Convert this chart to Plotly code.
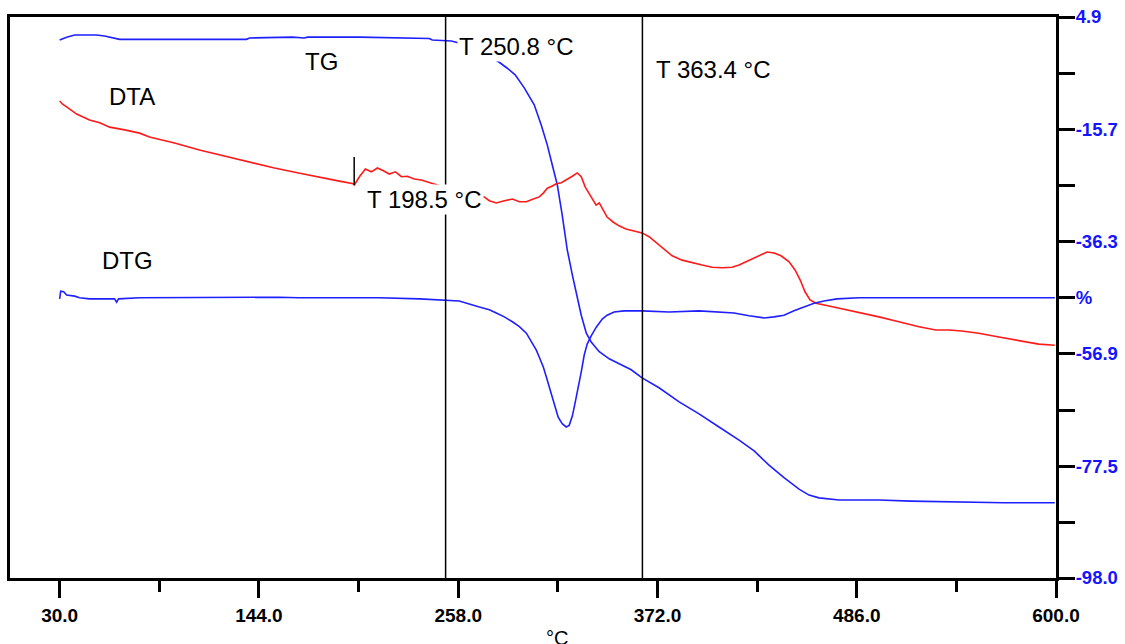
import plotly.graph_objects as go

# ---- data (temperature °C, value on the % scale) ----
tg_t = [30.0, 34.0, 38.6, 51.1, 55.7, 64.3, 98.6, 136.9, 138.6, 163.2, 170.0, 171.8, 201.5, 224.3,
        241.5, 243.2, 250.6, 254.1, 267.2, 281.5, 286.1, 290.6, 295.8, 301.5, 305.5, 309.0, 311.8,
        314.7, 317.5, 320.4, 323.3, 325.5, 328.4, 331.3, 334.1, 338.7, 344.4, 350.1, 357.0, 363.2,
        372.9, 384.4, 395.8, 407.2, 418.7, 427.3, 435.8, 444.4, 453.0, 458.7, 464.4, 475.9, 498.7,
        517.0, 570.1, 599.3]
tg_v = [0.7, 1.2, 1.6, 1.6, 1.4, 0.8, 0.8, 0.8, 1.05, 1.2, 1.05, 1.2, 1.2, 1.05,
        0.96, 0.68, 0.5, 0.5, -0.6, -3.4, -4.5, -5.7, -8.1, -11.2, -14.9, -18.6, -22.2,
        -25.9, -31.4, -37.8, -42.4, -45.5, -49.8, -53.1, -54.7, -56.5, -57.8, -58.7, -59.8, -61.3,
        -63.1, -65.7, -67.9, -70.3, -72.7, -74.7, -77.3, -79.6, -81.7, -82.8, -83.3, -83.7, -83.7,
        -83.9, -84.2, -84.2]

dta_t = [30.0, 31.7, 34.0, 36.9, 39.7, 43.1, 47.1, 52.9, 58.6, 67.2, 75.7, 81.4, 95.7, 110.0, 124.3,
         138.6, 152.9, 166.7, 178.6, 190.0, 198.0, 198.6, 201.5, 204.9, 208.3, 211.8, 215.2, 218.6,
         222.1, 225.5, 228.9, 232.9, 236.9, 241.5, 252.9, 264.3, 272.9, 275.8, 279.8, 284.4, 289.0,
         293.0, 297.0, 301.0, 304.4, 306.7, 309.0, 311.8, 314.1, 317.0, 319.8, 323.3, 326.1, 328.4,
         330.7, 333.0, 335.2, 336.9, 338.7, 340.9, 343.2, 346.6, 350.0, 354.0, 358.6, 363.2, 367.2,
         372.9, 376.9, 380.4, 386.1, 391.8, 397.5, 403.3, 409.0, 414.7, 418.7, 422.7, 427.3, 431.3,
         434.7, 438.7, 442.7, 447.3, 450.7, 453.6, 456.4, 459.3, 462.7, 470.1, 478.7, 487.3, 498.7,
         510.1, 521.6, 531.3, 538.7, 546.1, 555.8, 567.3, 578.7, 590.1, 599.3]
dta_v = [-10.5, -11.1, -11.6, -12.3, -12.9, -13.4, -14.0, -14.5, -15.3, -15.8, -16.4, -17.1, -18.2,
         -19.5, -20.6, -21.7, -22.8, -23.7, -24.4, -25.2, -25.7, -25.9, -24.4, -23.0, -23.5, -22.8,
         -23.3, -23.9, -23.5, -24.4, -24.3, -24.8, -25.0, -25.5, -26.6, -27.6, -28.1, -28.8, -29.2,
         -28.8, -28.5, -29.0, -29.0, -28.5, -28.1, -27.4, -26.5, -26.1, -25.7, -25.5, -25.0, -24.3,
         -23.7, -24.4, -26.3, -27.6, -28.7, -29.6, -29.2, -30.5, -31.8, -32.7, -33.4, -34.0, -34.3,
         -34.7, -35.4, -36.9, -38.0, -38.9, -39.7, -40.2, -40.6, -41.0, -41.1, -41.0, -40.6, -40.0,
         -39.3, -38.6, -38.2, -38.4, -38.9, -40.0, -41.5, -43.3, -45.5, -47.0, -47.6, -48.1, -48.7,
         -49.2, -50.1, -51.0, -51.9, -52.5, -52.5, -52.7, -53.1, -53.8, -54.5, -55.1, -55.3]

dtg_t = [30.0, 30.6, 32.3, 34.0, 38.6, 41.4, 47.1, 52.9, 61.4, 62.6, 63.7, 75.7, 110.0, 132.9, 155.7,
         166.7, 190.0, 212.9, 235.8, 250.6, 258.6, 270.1, 275.8, 279.8, 284.4, 289.0, 293.0, 297.0,
         300.4, 302.7, 304.4, 306.7, 308.4, 310.1, 311.8, 313.5, 315.2, 317.5, 319.8, 321.5, 323.3,
         325.0, 326.7, 328.4, 330.1, 331.8, 334.1, 337.0, 340.4, 343.2, 347.2, 352.9, 363.2, 378.6,
         395.8, 407.2, 415.8, 424.4, 433.0, 438.7, 444.4, 450.1, 455.8, 461.6, 467.3, 474.7, 487.3,
         510.1, 532.9, 567.3, 599.3]
dtg_v = [-46.8, -45.4, -45.5, -46.1, -46.3, -46.6, -46.8, -46.8, -46.8, -47.4, -46.8, -46.6, -46.5,
         -46.5, -46.5, -46.6, -46.6, -46.6, -46.8, -47.0, -47.2, -48.3, -48.8, -49.4, -50.1, -51.0,
         -51.9, -53.1, -54.9, -56.2, -57.5, -59.3, -61.1, -63.0, -64.8, -66.6, -68.5, -69.7, -70.3,
         -70.0, -68.3, -65.7, -63.1, -60.2, -57.1, -55.1, -53.6, -52.0, -50.5, -49.8, -49.2, -49.0,
         -49.0, -49.2, -49.0, -49.2, -49.4, -49.9, -50.3, -50.1, -49.8, -49.0, -48.3, -47.6, -47.2,
         -46.8, -46.6, -46.6, -46.6, -46.6, -46.6]

x_major = [30.0, 144.0, 258.0, 372.0, 486.0, 600.0]
x_minor = [87.0, 201.0, 315.0, 429.0, 543.0]
y_ticks = [4.9, -5.4, -15.7, -26.0, -36.3, -46.6, -56.9, -67.2, -77.5, -87.75, -98.0]
y_labels = ["4.9", "", "-15.7", "", "-36.3", "%", "-56.9", "", "-77.5", "", "-98.0"]

event_temps = [198.5, 250.8, 363.4]
event_labels = ["T 198.5 °C", "T 250.8 °C", "T 363.4 °C"]

BLUE = "#1f1fff"
RED = "#ff1a1a"

fig = go.Figure()
fig.add_trace(go.Scatter(x=tg_t, y=tg_v, mode="lines", line=dict(color=BLUE, width=1.6), name="TG"))
fig.add_trace(go.Scatter(x=dta_t, y=dta_v, mode="lines", line=dict(color=RED, width=1.6), name="DTA"))
fig.add_trace(go.Scatter(x=dtg_t, y=dtg_v, mode="lines", line=dict(color=BLUE, width=1.6), name="DTG"))

# vertical event lines
for t in event_temps[1:]:
    fig.add_shape(type="line", x0=t, x1=t, y0=-98.0, y1=4.9,
                  xref="x", yref="y", line=dict(color="black", width=1.5))
fig.add_shape(type="line", x0=event_temps[0], x1=event_temps[0], y0=-20.8, y1=-25.9,
              xref="x", yref="y", line=dict(color="black", width=1.5))

lab_font = dict(family="Liberation Sans, Arial, sans-serif", size=24, color="black")
ann = [
    dict(x=179.8, y=-3.35, text="TG", xanchor="center", yanchor="middle"),
    dict(x=71.2, y=-9.6, text="DTA", xanchor="center", yanchor="middle"),
    dict(x=68.9, y=-39.7, text="DTG", xanchor="center", yanchor="middle"),
    dict(x=257.5, y=-0.6, text=event_labels[1], xanchor="left", yanchor="middle", bgcolor="white"),
    dict(x=204.9, y=-28.5, text=event_labels[0], xanchor="left", yanchor="middle", bgcolor="white"),
    dict(x=370.1, y=-4.8, text=event_labels[2], xanchor="left", yanchor="middle"),
]
for a in ann:
    fig.add_annotation(xref="x", yref="y", showarrow=False, font=lab_font, borderpad=1, **a)

fig.add_annotation(xref="paper", yref="paper", x=0.523, y=-0.083, text="°C", showarrow=False,
                   xanchor="center", yanchor="top",
                   font=dict(family="Liberation Sans, Arial, sans-serif", size=20, color="black"))

fig.update_layout(
    width=1125, height=644,
    margin=dict(l=10, r=69, t=17, b=66, autoexpand=False),
    paper_bgcolor="white", plot_bgcolor="white",
    showlegend=False,
    xaxis=dict(range=[1.6, 600.0], tickmode="array", tickvals=x_major,
               ticktext=[f"{v:.1f}" for v in x_major],
               ticks="outside", ticklen=17, tickwidth=2.5, tickcolor="black",
               minor=dict(tickmode="array", tickvals=x_minor, ticks="outside", ticklen=11,
                          tickwidth=2.5, tickcolor="black", showgrid=False),
               showline=True, linecolor="black", linewidth=3, mirror=True, automargin=False,
               showgrid=False, zeroline=False, ticklabelstandoff=1, ticklabeloverflow="allow",
               tickfont=dict(family="Liberation Sans, Arial, sans-serif", size=19, color="black",
                             weight="bold")),
    yaxis=dict(range=[-98.0, 4.9], side="right", tickmode="array", tickvals=y_ticks,
               ticktext=y_labels, ticks="outside", ticklen=16, tickwidth=2.5, tickcolor="black",
               showline=True, linecolor="black", linewidth=3, mirror=True, automargin=False,
               showgrid=False, zeroline=False, ticklabelstandoff=-3, ticklabeloverflow="allow",
               tickfont=dict(family="Liberation Sans, Arial, sans-serif",
                             size=18.5, color="#1414ff", weight="bold")),
)

# remove the default 8px page margin so the figure fills the 1125x644 window
fig.write_html("out.html", config={"displayModeBar": False},
               post_script="document.body.style.margin='0';")
